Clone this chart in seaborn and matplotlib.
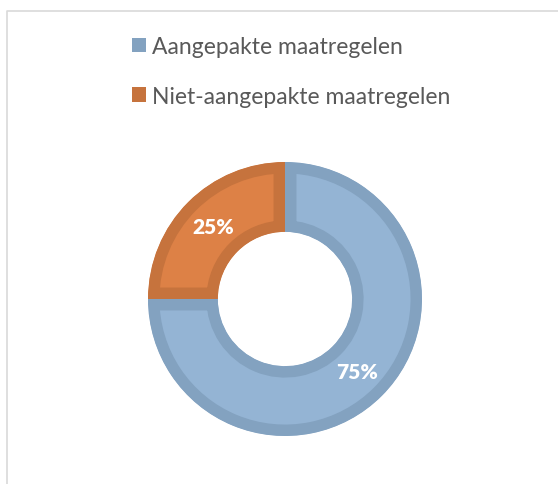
import matplotlib
matplotlib.use("Agg")
import matplotlib.pyplot as plt
import seaborn as sns
from matplotlib.patches import Patch
from matplotlib.lines import Line2D

categories = ["Aangepakte maatregelen", "Niet-aangepakte maatregelen"]
values = [75, 25]
face_colors = ["#94B4D4", "#DD8146"]
edge_colors = ["#83A2C0", "#C6733D"]

sns.set_theme(style="white")
plt.rcParams['font.family'] = ['Lato', 'DejaVu Sans']

W, H, DPI = 558, 485, 100
fig = plt.figure(figsize=(W / DPI, H / DPI), dpi=DPI)
fig.patch.set_facecolor("white")

# donut axes
cx, cy, R = 285, 300, 137
ax = fig.add_axes([(cx - R) / W, (H - cy - R) / H, 2 * R / W, 2 * R / H])
ax.set_axis_off()

wedges, texts, autotexts = ax.pie(
    values, startangle=90, counterclock=False, colors=face_colors,
    autopct=lambda p: f"{p:.0f}%", pctdistance=0.745, radius=1,
    wedgeprops=dict(width=0.51, linewidth=16.5),
    textprops=dict(color="white", fontsize=15, fontweight="heavy"))
for w, ec in zip(wedges, edge_colors):
    w.set_edgecolor(ec)
    w.set_clip_on(True)
    w.set_clip_path(w)
ax.set_xlim(-1, 1)
ax.set_ylim(-1, 1)
ax.set_aspect("equal")

# legend
handles = [Patch(facecolor=c, edgecolor="none") for c in edge_colors]
leg = fig.legend(handles, categories, loc="upper left",
                 bbox_to_anchor=(132 / W, 1 - 37 / H), frameon=False,
                 fontsize=16.5, labelcolor="#595959", handlelength=0.62,
                 handleheight=0.62, handletextpad=0.25, labelspacing=1.25,
                 borderpad=0, borderaxespad=0)

# chart border
fig.add_artist(Line2D([6.5 / W, 6.5 / W, 1], [0, 1 - 11.5 / H, 1 - 11.5 / H],
                      transform=fig.transFigure, color="#D9D9D9", lw=1.2))

fig.savefig("out.png", dpi=DPI)
